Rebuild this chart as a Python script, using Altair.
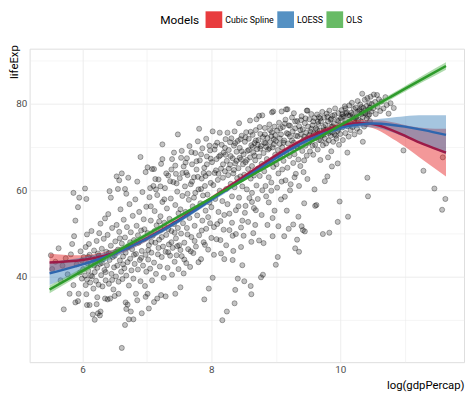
import altair as alt
import pandas as pd

FONT = "Roboto, Liberation Sans, sans-serif"

# ---- scatter points (log gdpPercap, lifeExp), grouped by x range ----
pts_a = [(5.51,45.0),(5.53,41.8),(5.58,43.5),(5.63,46.6),(5.66,39.2),(5.69,42.6),(5.71,32.5),(5.74,44.3),(5.77,40.6),(5.8,36.1),
         (5.82,45.2),(5.84,47.6),(5.86,38.1),(5.86,59.4),(5.87,49.4),(5.89,53.0),(5.89,34.1),(5.91,42.9),(5.93,56.1),(5.93,34.4),
         (5.94,36.1),(5.95,58.3),(5.96,41.0),(5.97,45.9),(5.99,39.6),(5.99,43.8)]
pts_b = [(6.01,41.8),(6.02,44.6),(6.04,40.3),(6.04,60.4),(6.05,38.1),(6.05,46.9),(6.06,58.0),(6.06,36.0),(6.07,39.4),(6.07,49.8),
         (6.07,33.5),(6.08,43.1),(6.09,41.4),(6.1,47.6),(6.11,33.5),(6.11,45.1),(6.12,38.7),(6.13,42.9),(6.14,50.6),(6.15,40.1),
         (6.16,31.3),(6.16,44.3),(6.17,37.3),(6.18,46.1),(6.19,30.1),(6.19,41.1),(6.2,43.7),(6.21,39.1),(6.22,33.7),(6.22,48.3),
         (6.23,35.3),(6.23,42.1),(6.24,31.6),(6.24,45.4),(6.25,38.2),(6.26,50.1),(6.27,31.1),(6.27,43.0),(6.28,52.3),(6.28,32.0),
         (6.29,40.4),(6.3,46.5),(6.31,37.8),(6.32,44.1),(6.33,48.8),(6.34,41.6),(6.35,35.0),(6.35,53.5),(6.36,39.2),(6.37,45.8),
         (6.38,42.7),(6.39,34.8),(6.39,49.7),(6.4,54.5),(6.41,38.4),(6.42,59.8),(6.42,43.9),(6.43,35.0),(6.44,58.3),(6.44,47.2),
         (6.45,40.7),(6.46,51.3),(6.47,44.6),(6.48,37.1),(6.49,42.2)]
pts_c = [(6.5,35.6),(6.5,44.9),(6.51,48.2),(6.52,40.1),(6.53,63.2),(6.53,52.0),(6.54,42.6),(6.55,60.3),(6.55,46.3),(6.56,36.1),
         (6.56,38.9),(6.57,62.3),(6.57,50.4),(6.58,43.8),(6.59,55.6),(6.6,41.2),(6.61,23.6),(6.61,63.9),(6.61,47.7),(6.62,39.5),
         (6.63,44.7),(6.64,53.2),(6.65,42.0),(6.66,28.9),(6.66,60.3),(6.66,49.1),(6.67,34.1),(6.67,45.6),(6.68,32.6),(6.68,59.2),
         (6.68,40.3),(6.69,51.5),(6.7,33.6),(6.7,43.4),(6.71,62.9),(6.71,47.0),(6.72,30.2),(6.72,38.0),(6.73,56.8),(6.74,44.2),
         (6.75,32.0),(6.75,50.3),(6.76,41.5),(6.77,46.4),(6.78,54.1),(6.79,30.2),(6.79,39.6),(6.8,48.5),(6.81,43.0),(6.82,57.9),
         (6.83,36.1),(6.83,45.3),(6.84,51.8),(6.85,34.6),(6.85,62.0),(6.86,41.7),(6.87,47.9),(6.88,55.0),(6.89,43.9),(6.9,67.7),
         (6.9,39.0),(6.91,50.7),(6.92,31.6),(6.92,46.0),(6.93,59.6),(6.94,42.6),(6.95,53.3),(6.96,48.8),(6.97,37.9),(6.98,35.4),
         (6.98,64.2),(6.98,45.1),(6.99,56.2),(6.99,41.2)]
pts_d = [(7.01,36.1),(7.01,65.3),(7.01,50.1),(7.02,44.0),(7.03,32.7),(7.03,47.3),(7.04,58.4),(7.05,41.9),(7.06,53.0),(7.07,45.6),
         (7.08,64.9),(7.08,39.2),(7.09,49.5),(7.1,61.0),(7.11,34.2),(7.11,64.9),(7.11,43.3),(7.12,55.2),(7.13,47.9),(7.14,40.7),
         (7.15,51.9),(7.16,35.0),(7.16,58.9),(7.17,45.2),(7.18,62.5),(7.19,48.6),(7.2,42.4),(7.21,54.0),(7.22,35.8),(7.22,66.1),
         (7.22,50.9),(7.23,44.6),(7.24,67.2),(7.24,70.6),(7.24,57.3),(7.25,47.0),(7.26,39.8),(7.27,52.5),(7.28,60.5),(7.29,35.5),
         (7.29,45.8),(7.3,49.7),(7.31,55.8),(7.32,42.1),(7.33,63.4),(7.34,47.5),(7.35,53.4),(7.36,44.9),(7.37,58.1),(7.38,50.6),
         (7.39,67.2),(7.39,40.5),(7.4,46.7),(7.41,61.9),(7.42,68.7),(7.42,52.2),(7.43,43.5),(7.44,36.1),(7.44,65.7),(7.44,56.6),
         (7.45,48.9),(7.46,45.0),(7.47,59.7),(7.48,72.9),(7.48,51.3),(7.49,41.8),(7.49,54.7),(7.06,56.3),(7.14,60.2),(7.27,57.9),
         (7.36,62.1),(7.45,63.8),(7.19,52.8),(7.33,51.0)]
pts_e = [(7.5,47.3),(7.51,62.8),(7.52,37.6),(7.52,55.6),(7.53,50.0),(7.54,69.1),(7.54,44.8),(7.55,58.7),(7.56,52.4),(7.57,40.8),
         (7.57,65.5),(7.58,47.9),(7.59,60.9),(7.6,55.0),(7.61,43.2),(7.62,67.4),(7.62,51.3),(7.63,63.5),(7.64,46.4),(7.65,57.8),
         (7.66,70.2),(7.66,53.6),(7.67,42.3),(7.68,61.4),(7.69,49.2),(7.7,66.0),(7.71,56.3),(7.72,45.5),(7.73,63.0),(7.74,51.8),
         (7.75,68.6),(7.75,59.4),(7.76,47.0),(7.77,64.8),(7.78,54.2),(7.79,71.3),(7.8,60.2),(7.81,74.2),(7.81,49.6),(7.82,66.9),
         (7.83,57.0),(7.84,44.1),(7.85,62.7),(7.86,69.7),(7.86,53.0),(7.87,58.8),(7.88,48.0),(7.89,34.8),(7.89,65.2),(7.9,61.0),
         (7.91,55.3),(7.92,71.9),(7.92,51.1),(7.93,67.8),(7.94,59.0),(7.95,46.3),(7.96,37.3),(7.96,63.9),(7.97,57.2),(7.98,69.2),
         (7.98,52.4),(7.99,61.7),(7.55,64.0),(7.6,66.4),(7.63,59.2),(7.7,62.0),(7.73,58.3),(7.79,63.1),(7.84,60.3),(7.88,64.0),
         (7.93,66.0),(7.97,70.3)]
pts_f = [(8.0,56.1),(8.01,66.5),(8.02,73.6),(8.02,39.8),(8.03,61.2),(8.04,51.5),(8.05,69.4),(8.06,58.0),(8.07,64.6),(8.08,48.7),
         (8.09,71.0),(8.1,62.4),(8.11,55.0),(8.12,67.8),(8.13,73.3),(8.13,59.9),(8.14,52.9),(8.15,45.4),(8.15,65.0),(8.16,70.5),
         (8.17,30.0),(8.17,57.5),(8.18,62.9),(8.19,68.7),(8.2,44.1),(8.2,54.3),(8.21,64.4),(8.22,71.8),(8.23,60.3),(8.24,32.0),
         (8.24,66.8),(8.25,73.3),(8.25,56.8),(8.26,63.5),(8.27,69.3),(8.28,50.8),(8.29,65.9),(8.3,61.5),(8.31,72.0),(8.32,58.6),
         (8.33,43.9),(8.33,49.5),(8.33,67.4),(8.34,46.0),(8.34,63.9),(8.35,70.3),(8.36,33.9),(8.36,73.6),(8.36,60.7),(8.37,37.0),
         (8.37,66.2),(8.38,55.4),(8.39,68.9),(8.4,62.8),(8.41,39.6),(8.41,71.4),(8.42,65.1),(8.43,75.5),(8.43,58.3),(8.44,69.8),
         (8.45,63.2),(8.46,46.9),(8.46,67.1),(8.47,72.6),(8.48,42.7),(8.48,53.0),(8.48,60.9),(8.49,66.0),(8.05,64.0),(8.08,67.2),
         (8.11,63.8),(8.18,66.0),(8.22,68.2),(8.27,65.0),(8.3,67.9),(8.35,64.7),(8.39,66.8),(8.44,67.5),(8.47,69.0)]
pts_g = [(8.5,49.5),(8.5,68.3),(8.51,39.0),(8.51,63.6),(8.52,71.2),(8.53,56.4),(8.53,66.5),(8.54,73.4),(8.55,60.2),(8.56,69.1),
         (8.57,64.9),(8.58,71.9),(8.59,58.2),(8.6,76.1),(8.6,67.6),(8.61,37.9),(8.61,62.7),(8.62,36.0),(8.62,48.1),(8.62,70.4),
         (8.63,57.3),(8.63,65.6),(8.64,72.8),(8.65,50.1),(8.65,68.7),(8.66,63.4),(8.67,70.9),(8.68,52.0),(8.68,66.9),(8.69,55.4),
         (8.69,73.9),(8.7,76.4),(8.7,61.1),(8.71,69.5),(8.72,65.0),(8.73,71.6),(8.74,77.2),(8.74,48.4),(8.74,67.8),(8.75,63.3),
         (8.76,73.0),(8.77,39.9),(8.77,70.2),(8.78,66.1),(8.79,77.3),(8.79,60.0),(8.8,40.5),(8.8,72.3),(8.81,47.8),(8.81,68.6),
         (8.82,64.4),(8.83,74.4),(8.84,70.9),(8.85,58.6),(8.86,67.2),(8.87,52.0),(8.87,72.1),(8.88,69.4),(8.89,63.0),(8.9,75.2),
         (8.91,71.1),(8.92,66.6),(8.93,61.8),(8.94,78.0),(8.94,73.4),(8.95,49.4),(8.95,53.6),(8.95,69.9),(8.96,78.2),(8.96,65.4),
         (8.97,71.8),(8.98,55.3),(8.98,74.7),(8.99,68.2),(8.55,67.0),(8.58,69.3),(8.64,70.0),(8.67,68.0),(8.72,70.5),(8.76,69.6),
         (8.82,71.0),(8.85,70.0),(8.9,69.7),(8.93,72.5),(8.97,70.6)]
pts_h = [(9.0,42.8),(9.0,71.4),(9.01,66.0),(9.02,73.8),(9.03,44.6),(9.03,69.3),(9.04,51.7),(9.04,63.9),(9.05,75.6),(9.06,70.7),
         (9.07,67.6),(9.08,72.9),(9.09,78.2),(9.09,62.0),(9.1,69.9),(9.11,74.6),(9.12,66.8),(9.13,49.4),(9.13,71.5),(9.14,58.5),
         (9.15,76.3),(9.16,78.7),(9.16,68.6),(9.17,55.3),(9.17,73.2),(9.18,78.7),(9.18,65.2),(9.19,70.8),(9.2,51.1),(9.2,75.0),
         (9.21,67.9),(9.22,72.4),(9.23,61.4),(9.24,69.6),(9.25,76.8),(9.26,73.6),(9.27,52.1),(9.27,66.3),(9.28,77.8),(9.28,71.0),
         (9.29,68.3),(9.3,46.6),(9.3,74.3),(9.31,63.8),(9.32,70.1),(9.33,48.6),(9.33,76.0),(9.34,72.5),(9.35,53.9),(9.35,67.1),
         (9.36,45.8),(9.36,74.8),(9.37,70.5),(9.38,65.6),(9.39,72.9),(9.4,51.7),(9.4,77.1),(9.41,69.1),(9.42,50.8),(9.42,74.1),
         (9.43,71.7),(9.44,57.0),(9.44,66.9),(9.45,75.5),(9.46,70.3),(9.47,73.3),(9.48,78.4),(9.48,68.0),(9.49,78.4),(9.49,72.0),
         (9.06,72.0),(9.12,71.0),(9.19,73.0),(9.25,71.5),(9.31,72.6),(9.38,73.9),(9.44,72.4),(9.1,64.8),(9.34,69.9)]
pts_i = [(9.5,74.7),(9.51,71.0),(9.52,76.4),(9.53,69.0),(9.54,73.5),(9.55,77.6),(9.56,71.9),(9.57,75.0),(9.58,68.2),(9.59,73.1),
         (9.6,60.2),(9.6,76.7),(9.61,56.4),(9.61,70.5),(9.62,74.3),(9.63,56.6),(9.63,72.2),(9.64,77.5),(9.65,69.4),(9.66,75.3),
         (9.67,76.9),(9.67,71.6),(9.68,73.8),(9.69,67.0),(9.7,75.9),(9.71,72.7),(9.72,78.1),(9.73,49.9),(9.73,70.4),(9.74,74.6),
         (9.75,76.8),(9.76,62.1),(9.76,72.0),(9.77,75.1),(9.78,70.8),(9.79,77.7),(9.8,63.2),(9.8,73.6),(9.81,67.6),(9.81,75.9),
         (9.82,71.5),(9.83,50.2),(9.83,78.4),(9.84,74.1),(9.85,72.6),(9.86,69.0),(9.86,76.5),(9.87,65.5),(9.87,73.4),(9.88,77.2),
         (9.89,71.2),(9.9,75.3),(9.91,73.0),(9.92,78.9),(9.93,74.4),(9.94,71.9),(9.95,76.2),(9.96,52.7),(9.96,66.2),(9.96,73.7),
         (9.97,77.8),(9.98,70.5),(9.99,57.4),(9.99,75.0),(9.52,72.8),(9.57,70.3),(9.62,72.9),(9.66,73.0),(9.7,71.5),(9.74,72.8),
         (9.78,74.0),(9.82,73.2),(9.88,74.8),(9.93,72.6),(9.97,74.2),(9.55,74.2),(9.65,75.8),(9.85,76.3),(9.45,50.5)]
pts_j = [(10.0,73.0),(10.01,76.6),(10.02,78.5),(10.03,74.5),(10.04,71.6),(10.05,77.1),(10.06,75.4),(10.07,79.4),(10.08,73.2),(10.09,76.0),
         (10.1,78.0),(10.11,68.7),(10.11,74.8),(10.12,53.9),(10.12,77.3),(10.13,72.4),(10.14,79.6),(10.15,75.7),(10.16,73.9),(10.17,77.9),
         (10.18,80.2),(10.19,74.6),(10.2,76.8),(10.21,78.8),(10.22,72.9),(10.23,75.5),(10.24,79.1),(10.25,77.0),(10.26,74.2),(10.27,80.6),
         (10.28,76.3),(10.29,78.3),(10.3,73.5),(10.31,79.8),(10.32,75.9),(10.33,77.6),(10.34,82.3),(10.35,71.2),(10.35,76.9),(10.36,79.0),
         (10.37,74.7),(10.38,80.9),(10.39,77.8),(10.4,75.3),(10.41,79.5),(10.42,62.9),(10.42,81.3),(10.43,58.6),(10.43,77.2),(10.44,78.7),
         (10.45,80.1),(10.46,76.0),(10.47,81.6),(10.48,78.2),(10.49,79.9),(10.03,76.9),(10.09,77.7),(10.15,77.2),(10.21,76.2),(10.27,78.1),
         (10.33,79.2),(10.39,78.4),(10.45,77.5)]
pts_k = [(10.51,78.9),(10.52,82.1),(10.54,80.4),(10.55,77.6),(10.57,82.0),(10.58,79.3),(10.6,81.0),(10.62,78.3),(10.64,80.5),(10.67,78.9),
         (10.7,81.5),(10.72,79.7),(10.75,77.7),(10.78,80.1),(10.83,79.0),(10.98,69.2),(11.29,64.5),(11.46,60.4),(11.58,55.5),(11.59,67.6),
         (11.63,58.0)]
pts_lower_mid = [(7.52,46.2),(7.58,44.0),(7.63,49.8),(7.68,45.9),(7.74,48.3),(7.8,43.4),(7.85,50.7),(7.9,47.4),(7.95,53.8),(8.0,49.0),
         (8.04,45.1),(8.09,52.2),(8.14,48.5),(8.19,50.9),(8.23,47.3),(8.28,54.6),(8.32,52.5),(8.38,49.9),(8.42,56.3),(8.46,51.4),
         (8.52,54.8),(8.57,52.7),(8.63,59.4),(8.66,55.9),(8.72,58.0),(8.78,54.3),(8.84,61.0),(8.89,57.2),(8.93,59.9),(9.02,60.6),
         (9.08,57.9),(9.15,62.3),(9.22,60.0),(9.29,63.0),(9.36,61.0),(9.43,64.2),(9.49,62.6)]
pts_left_mid = [(6.52,45.8),(6.58,48.9),(6.63,42.9),(6.69,46.8),(6.74,48.0),(6.8,45.1),(6.86,49.6),(6.91,44.4),(6.96,51.0),(7.02,46.2),
         (7.07,48.1),(7.12,50.6),(7.18,46.7),(7.23,49.2),(7.28,51.5),(7.33,45.7),(7.38,48.0),(7.43,50.2),(7.47,47.1),(6.3,43.2),
         (6.36,41.1),(6.41,45.5),(6.46,39.3),(6.25,44.9),(6.18,42.6),(6.13,40.3),(6.09,44.6)]
pts_upper_band = [(7.05,60.5),(7.13,62.6),(7.21,60.9),(7.3,63.9),(7.38,64.8),(7.46,61.6),(7.53,67.5),(7.61,64.1),(7.69,68.8),(7.77,66.7),
         (7.84,68.3),(7.91,63.3),(7.99,67.3),(8.06,70.3),(8.14,68.1),(8.21,69.8),(8.29,71.1),(8.37,70.9),(8.45,71.8),(8.53,72.2),
         (8.61,73.5),(8.69,71.5),(8.75,74.6),(8.83,72.9),(8.91,73.9),(8.99,72.7),(9.07,74.3),(9.14,75.4),(9.22,74.9),(9.3,75.9),
         (9.39,76.2),(9.46,76.6)]
pts_high = [(9.58,75.9),(9.64,74.0),(9.69,76.6),(9.75,73.9),(9.8,77.0),(9.86,74.7),(9.91,77.4),(9.97,76.0),(10.03,77.6),(10.08,78.9),
         (10.13,75.4),(10.19,77.5),(10.24,76.6),(10.3,78.6),(10.36,77.9),(10.41,76.6),(10.46,79.1)]

# ---- fitted curves ----
fit_x = [5.49, 6.0, 6.5, 7.0, 7.5, 8.0, 8.5, 9.0, 9.5, 10.0, 10.25, 10.5, 10.75, 11.0, 11.3, 11.64]

spline_fit = [43.3, 43.9, 45.6, 48.9, 53.2, 58.1, 63.1, 68.0, 72.2, 74.9, 75.5, 75.3, 74.2, 72.6, 70.6, 68.7]
spline_lo  = [41.2, 42.8, 44.8, 48.3, 52.7, 57.6, 62.6, 67.5, 71.7, 74.3, 74.8, 74.4, 72.5, 70.1, 66.8, 63.2]
spline_hi  = [45.4, 45.0, 46.4, 49.5, 53.7, 58.6, 63.6, 68.5, 72.7, 75.5, 76.2, 76.2, 75.9, 75.1, 74.4, 74.2]

loess_fit = [40.8, 42.9, 45.4, 48.8, 53.0, 57.8, 62.6, 67.4, 71.6, 74.4, 75.1, 75.4, 75.2, 74.7, 73.9, 72.8]
loess_lo  = [38.1, 41.3, 44.5, 48.2, 52.5, 57.3, 62.1, 66.9, 71.1, 73.8, 74.4, 74.5, 73.7, 72.3, 70.5, 68.3]
loess_hi  = [43.5, 44.5, 46.3, 49.4, 53.5, 58.3, 63.1, 67.9, 72.1, 75.0, 75.8, 76.3, 76.7, 77.1, 77.3, 77.3]

ols_fit = [37.1, 41.4, 45.6, 49.8, 54.0, 58.2, 62.4, 66.6, 70.8, 75.0, 77.1, 79.2, 81.3, 83.4, 85.9, 88.7]
ols_lo  = [36.2, 40.7, 45.0, 49.3, 53.6, 57.85, 62.05, 66.25, 70.4, 74.55, 76.6, 78.65, 80.7, 82.75, 85.15, 87.85]
ols_hi  = [38.0, 42.1, 46.2, 50.3, 54.4, 58.55, 62.75, 66.95, 71.2, 75.45, 77.6, 79.75, 81.9, 84.05, 86.65, 89.55]

models = ["Cubic Spline", "LOESS", "OLS"]
band_colors = ["#E41A1C", "#377EB8", "#4DAF4A"]
line_colors = ["#9C1B48", "#2F66AE", "#2E9B2B"]

points = (pts_a + pts_b + pts_c + pts_d + pts_e + pts_f + pts_g + pts_h + pts_i + pts_j + pts_k
          + pts_lower_mid + pts_left_mid + pts_upper_band + pts_high)
scatter_df = pd.DataFrame(points, columns=["gdp", "life"])

rows = []
for name, f, lo, hi in [("Cubic Spline", spline_fit, spline_lo, spline_hi),
                        ("LOESS", loess_fit, loess_lo, loess_hi),
                        ("OLS", ols_fit, ols_lo, ols_hi)]:
    for xv, fv, lv, hv in zip(fit_x, f, lo, hi):
        rows.append({"model": name, "gdp": xv, "fit": fv, "lo": lv, "hi": hv})
fit_df = pd.DataFrame(rows)

x_scale = alt.Scale(domain=[5.18, 11.92], nice=False, zero=False)
y_scale = alt.Scale(domain=[20.3, 92.7], nice=False, zero=False)

x_axis = alt.Axis(
    title="log(gdpPercap)", values=[6, 7, 8, 9, 10, 11], format="d",
    labelExpr="datum.value % 2 == 0 ? datum.label : ''",
    domain=False, ticks=False, labelPadding=3, labelFontSize=10, labelColor="#4D4D4D",
    labelFont=FONT, titleFont=FONT, titleFontSize=11.5, titleFontWeight="normal", titleColor="#000000",
    titleAnchor="end", titlePadding=5, gridColor="#EBEBEB",
    gridWidth={"condition": {"test": "datum.value % 2 == 0", "value": 0.9}, "value": 0.5},
)
y_axis = alt.Axis(
    title="lifeExp", values=[30, 40, 50, 60, 70, 80, 90], format="d",
    labelExpr="datum.value % 20 == 0 ? datum.label : ''",
    domain=False, ticks=False, labelPadding=3, labelFontSize=10, labelColor="#4D4D4D",
    labelFont=FONT, titleFont=FONT, titleFontSize=11.5, titleFontWeight="normal", titleColor="#000000",
    titleAngle=-90, titleX=-10, titleY=-4, titleAlign="right", titleBaseline="bottom",
    gridColor="#EBEBEB",
    gridWidth={"condition": {"test": "datum.value % 20 == 0", "value": 0.9}, "value": 0.5},
)

scatter = alt.Chart(scatter_df).mark_circle(
    size=27, fill="#000000", fillOpacity=0.24, stroke="#000000", strokeOpacity=0.45, strokeWidth=0.7
).encode(
    x=alt.X("gdp:Q", scale=x_scale, axis=x_axis),
    y=alt.Y("life:Q", scale=y_scale, axis=y_axis),
)

bands = alt.Chart(fit_df).mark_area(opacity=0.45, interpolate="natural").encode(
    x=alt.X("gdp:Q", scale=x_scale),
    y=alt.Y("lo:Q", scale=y_scale),
    y2="hi:Q",
    fill=alt.Fill("model:N", scale=alt.Scale(domain=models, range=band_colors),
                  legend=alt.Legend(
                      title="Models", orient="none", legendX=133, legendY=-38,
                      direction="horizontal", titleOrient="left", symbolType="square",
                      symbolSize=289, symbolStrokeWidth=0, symbolOpacity=0.85,
                      labelFont=FONT, labelFontSize=9, labelColor="#000000",
                      titleFont=FONT, titleFontSize=12, titleFontWeight="normal", titleColor="#000000",
                      titlePadding=6, columnPadding=3, labelOffset=3, padding=0,
                  )),
    detail="model:N",
)

lines = alt.Chart(fit_df).mark_line(strokeWidth=2.5, interpolate="natural").encode(
    x=alt.X("gdp:Q", scale=x_scale),
    y=alt.Y("fit:Q", scale=y_scale),
    stroke=alt.Stroke("model:N", scale=alt.Scale(domain=models, range=line_colors), legend=None),
)

chart = alt.layer(scatter, bands, lines).properties(
    width=442, height=319,
    padding={"left": 22, "top": 38, "right": 2, "bottom": 30},
    autosize=alt.AutoSizeParams(type="none"),
).configure_view(stroke=None).configure(font=FONT)

chart.save("out.html", embed_options={"renderer": "svg", "actions": False})
